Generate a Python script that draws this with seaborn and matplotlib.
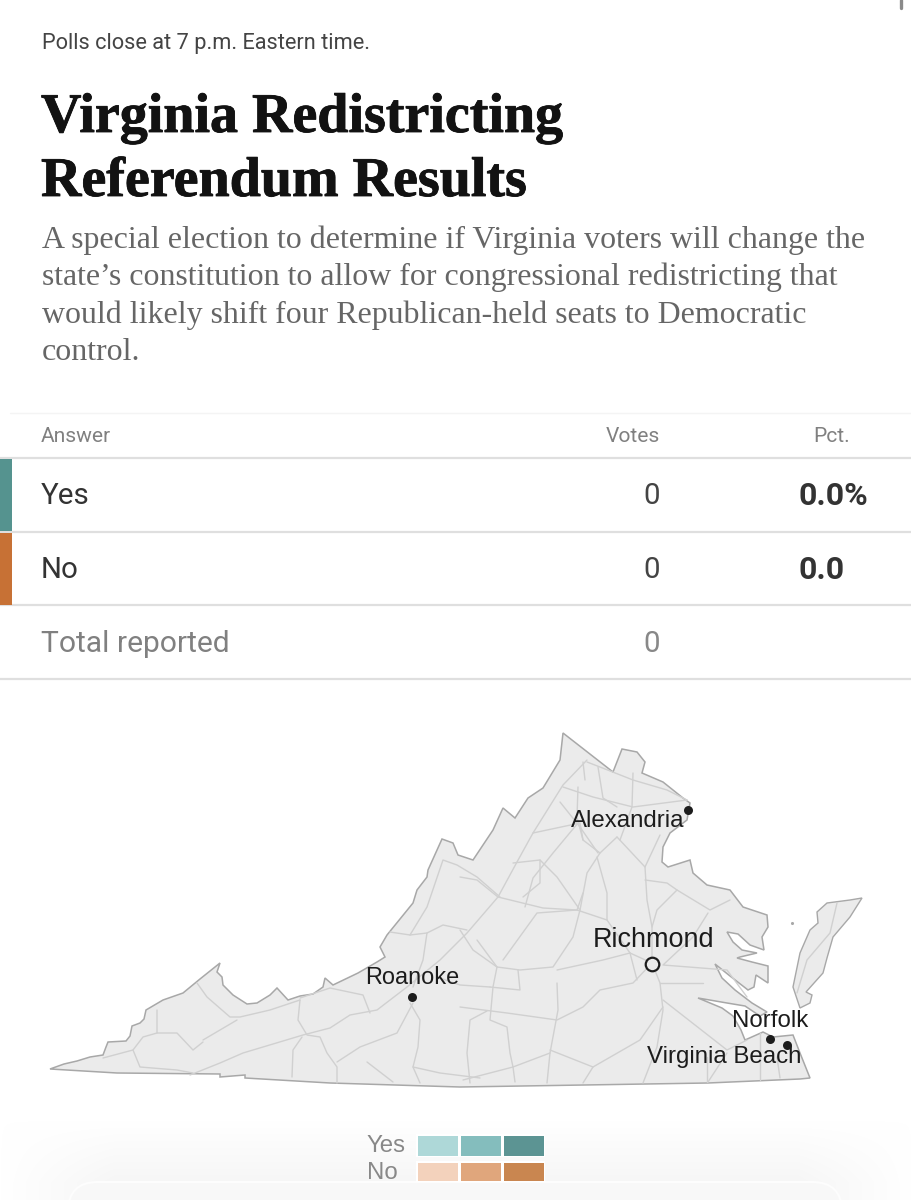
import numpy as np
import pandas as pd
import matplotlib
matplotlib.use('Agg')
import matplotlib.pyplot as plt
import matplotlib.patheffects as pe
import seaborn as sns
from matplotlib.colors import ListedColormap
from matplotlib.patches import FancyBboxPatch, PathPatch
from matplotlib.path import Path

note = 'Polls close at 7 p.m. Eastern time.'
title_lines = ['Virginia Redistricting', 'Referendum Results']
intro_lines = ['A special election to determine if Virginia voters will change the',
               'state’s constitution to allow for congressional redistricting that',
               'would likely shift four Republican-held seats to Democratic',
               'control.']
answers = ['Yes', 'No']
votes = [0, 0]
pcts = ['0.0%', '0.0']
total = 0
answer_colors = ['#55938f', '#c77135']
legend_yes = ['#aed8d8', '#84bdbd', '#5c9493']
legend_no = ['#f3d2bc', '#e0a67c', '#c98650']

state_outline = [
    (50, 1069), (64, 1064), (77, 1061), (90, 1057), (103, 1055), (106, 1047), (108, 1042), (126, 1041),
    (130, 1036), (132, 1026), (140, 1023), (144, 1019), (146, 1010), (163, 1000), (183, 993), (200, 979),
    (220, 963), (217, 972), (222, 977), (223, 985), (233, 995), (247, 1004), (257, 1003), (270, 995),
    (277, 988), (288, 1000), (300, 996), (313, 994), (323, 987), (325, 978), (333, 985), (358, 973),
    (377, 962), (385, 957), (380, 947), (387, 935), (413, 903), (417, 890), (427, 877), (428, 870),
    (442, 839), (453, 843), (458, 855), (473, 860), (493, 830), (503, 808), (515, 818), (528, 798),
    (543, 788), (560, 760), (563, 733), (613, 772), (622, 749), (637, 752), (645, 762), (642, 773),
    (663, 782), (683, 798), (690, 803), (687, 820), (670, 833), (663, 847), (662, 862), (668, 867),
    (690, 860), (693, 873), (707, 885), (730, 890), (743, 907), (767, 915), (768, 927), (762, 937),
    (764, 950), (750, 945), (738, 934), (727, 932), (733, 942), (742, 950), (757, 953), (740, 957),
    (737, 958), (752, 962), (768, 966), (768, 983), (756, 975), (754, 987), (748, 990), (730, 976),
    (715, 964), (722, 978), (735, 990), (752, 1003), (767, 1012), (760, 1016), (745, 1006), (727, 1003),
    (698, 998), (722, 1008), (733, 1016), (741, 1030), (745, 1040), (763, 1032), (773, 1037), (793, 1035),
    (800, 1053), (810, 1078), (800, 1079), (708, 1083), (460, 1087), (330, 1083), (245, 1078), (245, 1075),
    (220, 1077), (220, 1074), (117, 1073), (50, 1069)]
eastern_shore = [
    (850, 900), (827, 903), (817, 912), (818, 923), (810, 930), (800, 953), (793, 987), (800, 1008),
    (810, 1003), (812, 995), (806, 992), (823, 973), (827, 958), (833, 937), (850, 917), (862, 898), (850, 900)]
roads = [
    [(197, 983), (207, 997), (230, 1017), (240, 1017), (270, 1010), (300, 1000)],
    [(203, 1040), (237, 1020)],
    [(157, 1010), (157, 1033), (177, 1033), (193, 1050), (203, 1042)],
    [(103, 1058), (133, 1050), (143, 1037), (157, 1033)],
    [(133, 1050), (140, 1067), (177, 1070), (193, 1073)],
    [(190, 1075), (220, 1063), (243, 1053), (303, 1035), (330, 1028), (350, 1015), (377, 1010), (407, 987),
     (440, 960), (467, 933), (498, 897), (517, 862), (533, 833), (563, 785), (587, 760)],
    [(300, 1000), (298, 1020), (307, 1035), (320, 1037), (327, 1053), (337, 1067), (337, 1083)],
    [(300, 998), (330, 988), (363, 995), (370, 1013)],
    [(302, 1037), (293, 1050), (292, 1077)],
    [(337, 1062), (360, 1047), (397, 1033), (413, 1003)],
    [(410, 1003), (420, 1020), (418, 1047), (413, 1067), (420, 1083)],
    [(367, 1062), (393, 1082)],
    [(413, 1067), (440, 1073), (480, 1078)],
    [(390, 932), (410, 935), (427, 933), (423, 960), (413, 987)],
    [(427, 933), (443, 925), (467, 930)],
    [(410, 935), (427, 907), (443, 860), (457, 865), (477, 877), (500, 897)],
    [(437, 977), (460, 985), (490, 987)],
    [(487, 1011), (470, 1020), (467, 1053), (470, 1083)],
    [(563, 787), (593, 797), (633, 807), (687, 800)],
    [(587, 762), (600, 767), (633, 780), (667, 790), (687, 800)],
    [(498, 897), (543, 908), (577, 910), (607, 920), (630, 953), (652, 963)],
    [(533, 833), (580, 823), (583, 840), (600, 853), (617, 837)],
    [(600, 853), (587, 873), (580, 910), (573, 937), (553, 967), (520, 970), (497, 967), (473, 950), (460, 930)],
    [(617, 837), (645, 867), (660, 835)],
    [(645, 867), (647, 900), (652, 927), (652, 963), (660, 983), (663, 1010), (657, 1047), (643, 1083)],
    [(597, 857), (607, 893), (607, 920)],
    [(645, 880), (667, 883), (677, 890), (710, 910), (730, 900)],
    [(677, 890), (657, 910), (652, 927)],
    [(708, 913), (693, 937), (663, 965), (727, 970), (747, 997)],
    [(652, 963), (633, 983), (600, 990), (583, 1007), (557, 1020), (507, 1013), (460, 1007)],
    [(663, 1000), (727, 1050), (747, 1040)],
    [(663, 1007), (640, 1040), (593, 1067), (583, 1083)],
    [(557, 983), (558, 1010), (550, 1053), (513, 1067), (463, 1080)],
    [(518, 970), (520, 990), (490, 987)],
    [(497, 967), (493, 987), (490, 1020), (507, 1027), (510, 1053), (513, 1067)],
    [(550, 1053), (547, 1083)],
    [(727, 1053), (708, 1082)],
    [(760, 1033), (760, 1080)],
    [(513, 863), (540, 860), (557, 877), (580, 910)],
    [(540, 860), (540, 883), (523, 897)],
    [(460, 877), (477, 880), (498, 897)],
    [(578, 787), (577, 817), (583, 840)],
    [(633, 773), (632, 807), (620, 840)],
    [(583, 762), (585, 780)],
    [(598, 767), (603, 798), (617, 807)],
    [(560, 802), (580, 827), (598, 853)],
    [(525, 907), (533, 878), (553, 853), (578, 823)],
    [(583, 893), (577, 910)],
    [(477, 940), (497, 967)],
    [(503, 960), (537, 913), (577, 910)],
    [(557, 970), (603, 960), (630, 953)],
    [(630, 953), (637, 980)],
    [(660, 983), (703, 983)],
    [(513, 1067), (515, 1082)],
    [(550, 1050), (593, 1067)],
    [(707, 1057), (707, 1082)],
    [(777, 1057), (780, 1078)],
    [(837, 903), (830, 933), (807, 960), (797, 993)]]
cities = ['Alexandria', 'Richmond', 'Roanoke', 'Norfolk', 'Virginia Beach']
city_x = [688, 652, 412, 770, 787]
city_y = [810, 964, 997, 1039, 1045]
label_x = [571, 593, 365, 732, 647]
label_y = [821, 940, 977, 1021, 1057]
city_sizes = [24, 27, 23.5, 24, 24]

sns.set_theme(style='white')
plt.rcParams['font.family'] = ['Roboto', 'Liberation Sans', 'DejaVu Sans']
SERIF = ['Liberation Serif', 'DejaVu Serif']
MAP_FONT = ['Liberation Sans', 'DejaVu Sans']

fig = plt.figure(figsize=(9.12, 12), dpi=100, facecolor='white')
ax = fig.add_axes([0, 0, 1, 1])


def px(size):
    return size * 0.72


# soft shadow behind the sheet at the bottom of the page
gy, gx = np.mgrid[1120:1200, 0:912]
glow = np.clip((gy - 1120) / 62, 0, 1) * np.clip(1 - np.abs(gx - 456) / 456, 0, 0.25) / 0.25
ax.imshow(glow, extent=(0, 912, 1200, 1120), cmap=sns.blend_palette(['#ffffff', '#f6f6f6'], as_cmap=True),
          vmin=0, vmax=1, aspect='auto', zorder=0)
ax.add_patch(FancyBboxPatch((98, 1212), 714, 0, boxstyle='round,pad=30,rounding_size=30', facecolor='#f8f8f8',
                            edgecolor='#fdfdfd', lw=1.5, zorder=0.5))
ax.plot([901, 901], [0, 8], color='#8a8a8a', lw=2.4, solid_capstyle='round')

ax.text(42, 43, note, fontsize=px(21.8), color='#444444', va='center')
for line, y in zip(title_lines, [132, 196]):
    ax.text(41, y, line, family=SERIF, weight='bold', fontsize=px(56), color='#121212', va='baseline',
            path_effects=[pe.withStroke(linewidth=0.6, foreground='#121212')])
for line, y in zip(intro_lines, [248, 285, 323, 360]):
    ax.text(42, y, line, family=SERIF, fontsize=px(31.9), color='#666666', va='baseline')

# results table
ax.plot([10, 912], [413, 413], color='#f4f4f4', lw=1)
ax.text(41, 437, 'Answer', fontsize=px(21), color='#808080', va='center')
ax.text(660, 437, 'Votes', fontsize=px(21), color='#808080', va='center', ha='right')
ax.text(850, 437, 'Pct.', fontsize=px(21), color='#808080', va='center', ha='right')
for y in [458, 532, 605, 679]:
    ax.plot([0, 912], [y, y], color='#dfdfdf', lw=1.6)
row_y = [496, 570]
for i, answer in enumerate(answers):
    ax.fill_between([0, 12], row_y[i] - 37, row_y[i] + 35, color=answer_colors[i], lw=0, zorder=3)
    ax.text(41, row_y[i], answer, fontsize=px(29.5), color='#333333', va='center')
    ax.text(660, row_y[i], str(votes[i]), fontsize=px(29.5), color='#444444', va='center', ha='right')
    ax.text(799, row_y[i], pcts[i], fontsize=px(32), weight='bold', color='#333333', va='center')
ax.text(41, 644, 'Total reported', fontsize=px(30), color='#808080', va='center')
ax.text(660, 644, str(total), fontsize=px(29.5), color='#888888', va='center', ha='right')

# map
shore = np.array(eastern_shore)
state = np.array(state_outline)
ax.fill(state[:, 0], state[:, 1], facecolor='#ebebeb', edgecolor='#a8a8a8', lw=1.1, zorder=1)
ax.fill(shore[:, 0], shore[:, 1], facecolor='#ebebeb', edgecolor='#a8a8a8', lw=1.0, zorder=1)
ax.scatter([792], [923], s=5, color='#a8a8a8', lw=0, zorder=1)

road_table = pd.DataFrame([(i, x, y) for i, r in enumerate(roads) for x, y in r], columns=['road', 'x', 'y'])
sns.lineplot(data=road_table, x='x', y='y', units='road', estimator=None, sort=False,
             color='#d0d0d0', lw=1.0, ax=ax, zorder=2)
clip = PathPatch(Path.make_compound_path(Path(state), Path(shore)), transform=ax.transData, fc='none', ec='none')
ax.add_patch(clip)
ax.lines[-1].set_clip_path(clip)
ax.lines[-1].set_solid_joinstyle('round')

for i, city in enumerate(cities):
    hollow = city == 'Richmond'
    ax.scatter(city_x[i], city_y[i], s=95 if hollow else 42, marker='o', facecolor='#ebebeb' if hollow else '#1c1c1c',
               edgecolor='#1c1c1c', lw=1.6 if hollow else 0, zorder=4)
    ax.text(label_x[i], label_y[i], city, family=MAP_FONT, fontsize=px(city_sizes[i]), color='#1c1c1c',
            va='center', zorder=5)

ax.text(405, 1146, 'Yes', family=MAP_FONT, fontsize=px(24), color='#888888', va='center', ha='right')
ax.text(398, 1173, 'No', family=MAP_FONT, fontsize=px(24), color='#888888', va='center', ha='right')

ax.set_xlim(0, 912)
ax.set_ylim(1200, 0)
ax.axis('off')

# legend swatches, one heatmap for each answer
for colors, top, height in [(legend_yes, 1134, 23), (legend_no, 1161, 21)]:
    leg = fig.add_axes([416 / 912, 1 - (top + height) / 1200, 129 / 912, height / 1200])
    sns.heatmap(np.arange(3).reshape(1, 3), cmap=ListedColormap(colors), cbar=False, linewidths=0.9,
                linecolor='white', xticklabels=False, yticklabels=False, ax=leg)

fig.savefig('out.png', dpi=100)
